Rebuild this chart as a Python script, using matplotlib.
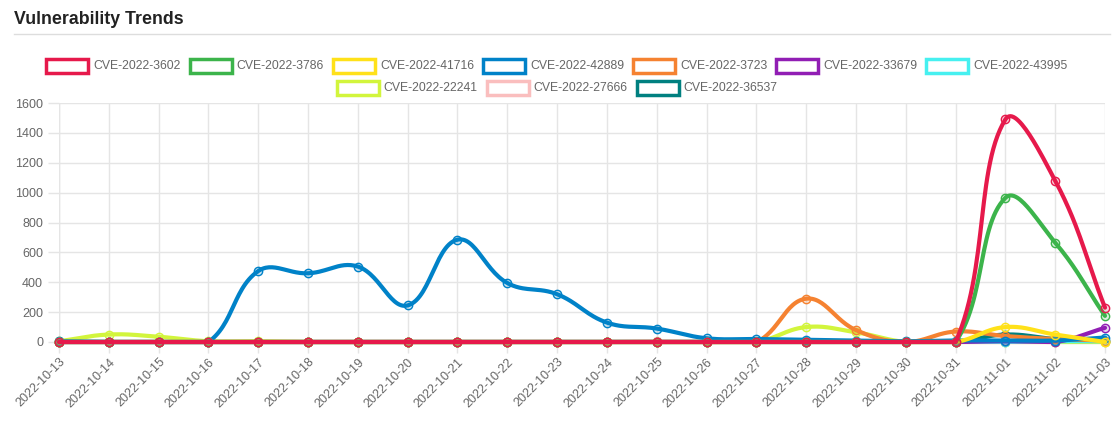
import numpy as np
import matplotlib
matplotlib.use("Agg")
import matplotlib.pyplot as plt
from matplotlib.patches import Rectangle
from matplotlib.lines import Line2D

plt.rcParams['font.family'] = ['Liberation Sans', 'DejaVu Sans']

dates = ['2022-10-13', '2022-10-14', '2022-10-15', '2022-10-16', '2022-10-17', '2022-10-18',
         '2022-10-19', '2022-10-20', '2022-10-21', '2022-10-22', '2022-10-23', '2022-10-24',
         '2022-10-25', '2022-10-26', '2022-10-27', '2022-10-28', '2022-10-29', '2022-10-30',
         '2022-10-31', '2022-11-01', '2022-11-02', '2022-11-03']

names = ['CVE-2022-3602', 'CVE-2022-3786', 'CVE-2022-41716', 'CVE-2022-42889', 'CVE-2022-3723',
         'CVE-2022-33679', 'CVE-2022-43995', 'CVE-2022-22241', 'CVE-2022-27666', 'CVE-2022-36537']
colors = ['#e6194b', '#3cb44b', '#ffe119', '#0082c8', '#f58231',
          '#911eb4', '#46f0f0', '#d2f53c', '#fabebe', '#008080']

cve_3602 = [0, 0, 0, 0, 0, 0, 0, 0, 0, 0, 0, 0, 0, 0, 0, 0, 0, 0, 0, 1490, 1080, 230]
cve_3786 = [0, 0, 0, 0, 0, 0, 0, 0, 0, 0, 0, 0, 0, 0, 0, 0, 0, 0, 0, 965, 665, 175]
cve_41716 = [0, 0, 0, 0, 0, 0, 0, 0, 0, 0, 0, 0, 0, 0, 0, 0, 0, 0, 0, 100, 50, 0]
cve_42889 = [5, 0, 0, 0, 475, 460, 505, 245, 685, 395, 320, 130, 90, 25, 20, 15, 10, 5, 10, 10, 10, 30]
cve_3723 = [0, 0, 0, 0, 0, 0, 0, 0, 0, 0, 0, 0, 0, 0, 0, 290, 80, 0, 70, 40, 20, 10]
cve_33679 = [0, 0, 0, 0, 0, 0, 0, 0, 0, 0, 0, 0, 0, 0, 0, 0, 0, 0, 0, 5, 0, 95]
cve_43995 = [0, 0, 0, 0, 0, 0, 0, 0, 0, 0, 0, 0, 0, 0, 0, 0, 0, 0, 0, 0, 5, 5]
cve_22241 = [5, 50, 35, 5, 5, 0, 0, 0, 0, 0, 0, 0, 0, 0, 0, 100, 65, 0, 0, 0, 0, 0]
cve_27666 = [0, 0, 0, 0, 0, 0, 0, 0, 0, 0, 0, 0, 5, 0, 0, 0, 0, 0, 0, 0, 0, 0]
cve_36537 = [0, 0, 0, 0, 0, 0, 0, 0, 0, 0, 0, 0, 0, 0, 0, 0, 0, 0, 0, 50, 20, 5]

series = [cve_3602, cve_3786, cve_41716, cve_42889, cve_3723,
          cve_33679, cve_43995, cve_22241, cve_27666, cve_36537]

W, H = 1118, 428
fig = plt.figure(figsize=(W / 100, H / 100), dpi=100)

# plot area in pixels
x0, x1, ytop, ybot = 59, 1105, 103, 342
ax = fig.add_axes([x0 / W, 1 - ybot / H, (x1 - x0) / W, (ybot - ytop) / H])
ymax = 1600
xs = np.arange(len(dates))
px_x = (x1 - x0) / (len(dates) - 1)
px_y = (ybot - ytop) / ymax


def smooth(xv, yv, tension=0.4, n=30):
    # bezier spline like Chart.js, computed in pixel space
    P = np.column_stack([np.asarray(xv) * px_x, np.asarray(yv, float) * px_y])
    out = []
    for i in range(len(P) - 1):
        def ctrl(j):
            prev = P[max(j - 1, 0)]
            cur = P[j]
            nxt = P[min(j + 1, len(P) - 1)]
            d01 = np.hypot(*(cur - prev))
            d12 = np.hypot(*(nxt - cur))
            tot = d01 + d12
            s01 = d01 / tot if tot else 0
            s12 = d12 / tot if tot else 0
            c_prev = cur - tension * s01 * (nxt - prev)
            c_next = cur + tension * s12 * (nxt - prev)
            return c_prev, c_next
        a = P[i]
        b = P[i + 1]
        c1 = ctrl(i)[1]
        c2 = ctrl(i + 1)[0]
        c1[1] = np.clip(c1[1], 0, ymax * px_y)
        c2[1] = np.clip(c2[1], 0, ymax * px_y)
        t = np.linspace(0, 1, n)[:, None]
        seg = (1 - t) ** 3 * a + 3 * (1 - t) ** 2 * t * c1 + 3 * (1 - t) * t ** 2 * c2 + t ** 3 * b
        out.append(seg if i == 0 else seg[1:])
    out = np.vstack(out)
    return out[:, 0] / px_x, out[:, 1] / px_y


for k in range(len(series) - 1, -1, -1):
    sx, sy = smooth(xs, series[k])
    z = 10 + (len(series) - k) * 2
    ax.plot(sx, sy, color=colors[k], lw=3, solid_capstyle='round', zorder=z, clip_on=False)
    ax.plot(xs, series[k], 'o', ms=6, mfc=colors[k] + '33', mec=colors[k], mew=1, zorder=z + 1, clip_on=False)

ax.set_xlim(0, len(dates) - 1)
ax.set_ylim(0, ymax)
ax.set_yticks(np.arange(0, 1601, 200))
ax.set_xticks(xs)
ax.set_xticklabels(dates, rotation=45, ha='right', va='top', rotation_mode='anchor')
ax.tick_params(axis='both', colors='#e5e5e5', labelcolor='#666666', labelsize=9, length=8, width=1)
ax.tick_params(axis='x', pad=2)
ax.grid(True, color='#e5e5e5', lw=1)
ax.set_axisbelow(True)
for s in ax.spines.values():
    s.set_visible(False)
ax.axvline(0, color='#e5e5e5', lw=1, zorder=1)

# title and separator
fig.text(14 / W, 1 - 24 / H, 'Vulnerability Trends', fontsize=12.8, fontweight='bold',
         color='#222222', va='baseline', ha='left')
fig.add_artist(Line2D([14 / W, 1110 / W], [1 - 34 / H, 1 - 34 / H], color='#dddddd', lw=1))

# legend drawn as centered rows of outlined boxes
rows = [list(range(7)), [7, 8, 9]]
row_y = [66, 88]
fig.canvas.draw()
r = fig.canvas.get_renderer()
box_w, box_h, gap, pad = 42, 13, 5, 9
cx = 557
for row, yy in zip(rows, row_y):
    widths = []
    for k in row:
        t = fig.text(0, 0, names[k], fontsize=8.8)
        widths.append(t.get_window_extent(r).width)
        t.remove()
    total = sum(box_w + gap + w for w in widths) + pad * (len(row) - 1)
    xp = cx - total / 2
    for k, w in zip(row, widths):
        fig.add_artist(Rectangle((xp / W, 1 - (yy + box_h / 2) / H), box_w / W, box_h / H,
                                 facecolor='white', edgecolor=colors[k], lw=2.5,
                                 transform=fig.transFigure))
        fig.text((xp + box_w + gap) / W, 1 - yy / H, names[k], fontsize=8.8, color='#666666',
                 va='center', ha='left')
        xp += box_w + gap + w + pad

fig.savefig('out.png', dpi=100)
